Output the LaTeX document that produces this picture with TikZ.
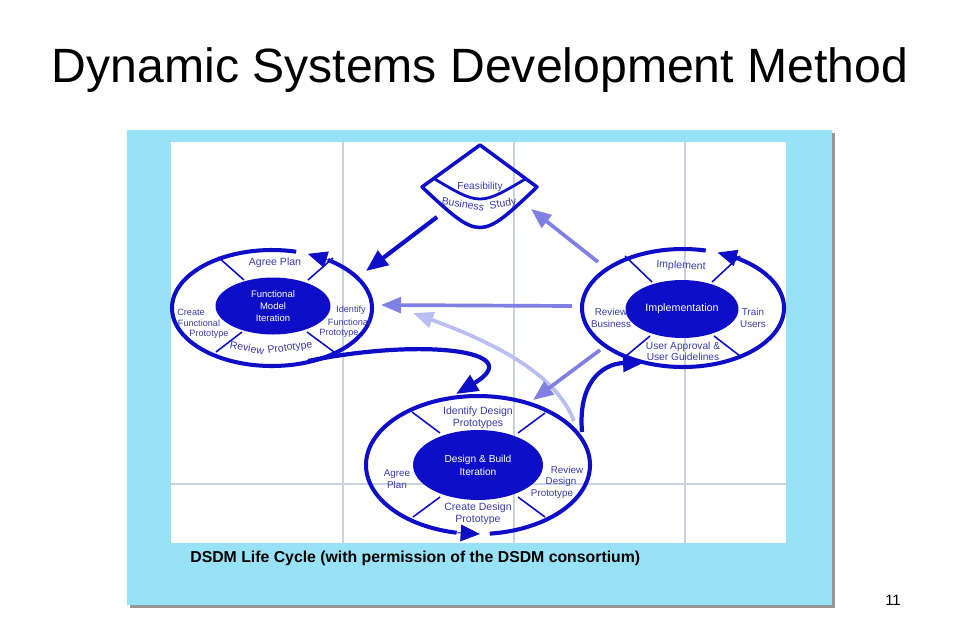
\documentclass[tikz,border=0pt]{standalone}
\usepackage{fontspec}
\setmainfont{Liberation Sans}
\usetikzlibrary{arrows.meta,shapes.geometric}
\definecolor{dsblue}{RGB}{14,14,200}
\definecolor{midarrow}{RGB}{128,128,228}
\definecolor{lightarrow}{RGB}{184,190,242}
\definecolor{ringtext}{RGB}{58,58,170}
\definecolor{panel}{RGB}{152,226,248}
\definecolor{gridc}{RGB}{202,210,226}
\definecolor{shadowc}{RGB}{150,150,150}
\begin{document}
\begin{tikzpicture}[x=0.02cm,y=-0.02cm,
  ring/.style={draw=dsblue, line width=2.3pt},
  divider/.style={draw=dsblue, line width=0.9pt},
  core/.style={ellipse, fill=dsblue, draw=none, text=white, align=center, inner sep=0pt},
  lbl/.style={text=ringtext, align=center, inner sep=0pt, font=\fontsize{6}{7}\selectfont},
  darrow/.style={draw=dsblue, line width=2.4pt, -{Triangle[length=12.5pt,width=10pt]}},
  marrow/.style={draw=midarrow, line width=2.1pt, -{Triangle[length=11.5pt,width=9pt]}},
  larrow/.style={draw=lightarrow, line width=2.1pt, -{Triangle[length=11.5pt,width=9pt]}},
  headonly/.style={draw=dsblue, line width=0.5pt, -{Triangle[length=11pt,width=9.5pt]}}
]
\useasboundingbox (0,0) rectangle (960,640);
\fill[white] (0,0) rectangle (960,640);
% title
\node[anchor=base, font=\fontsize{27.4}{30}\selectfont] (title) at (480,82) {Dynamic Systems Development Method};
% panel
\fill[shadowc] (130,133) rectangle (835,608);
\fill[panel] (127,130) rectangle (832,605);
\fill[white] (171,142) rectangle (786,543);
\draw[gridc, line width=0.6pt] (343,142) -- (343,543) (514,142) -- (514,543) (685,142) -- (685,543) (171,484) -- (786,484);
\node[anchor=base west, font=\bfseries\fontsize{9}{10}\selectfont, inner sep=0pt] (caption) at (190,562) {DSDM Life Cycle (with permission of the DSDM consortium)};
\node[font=\fontsize{8.5}{10}\selectfont] (pagenum) at (893,600) {11};

% ---------- Feasibility fan ----------
\draw[ring, line width=2pt, line join=round] (480,145) -- (422,187) .. controls (480,241) .. (537,187) -- cycle;
\draw[ring, line width=1.6pt] (433,178) .. controls (480,206) .. (527,178);
\node[lbl, font=\fontsize{5.8}{6}\selectfont] (fs1) at (480,187) {Feasibility};
\node[lbl, rotate=-9] (fs2) at (463,204) {Business};
\node[lbl, rotate=10] (fs3) at (503,204) {Study};
\coordinate (fsOut) at (437,217);
\coordinate (fsIn) at (531,209);

% ---------- Functional Model ring ----------
\coordinate (fm) at (272,308);
\draw[ring] plot[domain=76:416, samples=160] ({272+100*cos(\x)},{308-58*sin(\x)});
\draw[headonly] ({272+100*cos(55)},{308-58*sin(55)}) -- ({272+100*cos(69)},{308-58*sin(69)});
\draw[divider] (218,257) -- (244,280) (308,280) -- (333,258) (242,332) -- (216,352) (307,332) -- (334,352);
\node[core, minimum width=2.3cm, minimum height=1.14cm, font=\fontsize{5.4}{6.8}\selectfont] (fmcore) at (273,306) {Functional\\Model\\Iteration};
\node[lbl] (fm1) at (275,263) {Agree Plan};
\node[lbl, font=\fontsize{5.2}{6}\selectfont] (fm2) at (191,312) {Create};
\node[lbl, font=\fontsize{5.2}{6}\selectfont] (fm3) at (199,323) {Functional};
\node[lbl, font=\fontsize{5.2}{6}\selectfont] (fm4) at (209,334) {Prototype};
\node[lbl, font=\fontsize{5.2}{6}\selectfont] (fm5) at (351,310) {Identify};
\node[lbl, font=\fontsize{5.2}{6}\selectfont] (fm6) at (349,322) {Functional};
\node[lbl, font=\fontsize{5.2}{6}\selectfont] (fm7) at (339,333) {Prototype};
\node[lbl, rotate=-11] (fm8) at (247,348) {Review};
\node[lbl, rotate=8] (fm9) at (290,348) {Prototype};
\coordinate (fmIn) at (366,271);
\coordinate (fmIn2) at (381,305);
\coordinate (fmIn3) at (413,313);
\coordinate (fmOut) at (308,361);

% ---------- Implementation ring ----------
\coordinate (im) at (683,308);
\draw[ring] plot[domain=77:419, samples=160] ({683+101*cos(\x)},{308-59*sin(\x)});
\draw[headonly] ({683+101*cos(57)},{308-59*sin(57)}) -- ({683+101*cos(70)},{308-59*sin(70)});
\draw[divider] (625,256) -- (652,282) (712,282) -- (740,256) (650,336) -- (626,356) (714,336) -- (740,356);
\node[core, minimum width=2.26cm, minimum height=1.16cm, font=\fontsize{6.1}{7}\selectfont] (imcore) at (682,309) {Implementation};
\node[lbl, rotate=-3] (im1) at (681,266) {Implement};
\node[lbl, font=\fontsize{5.6}{6.6}\selectfont] (im2) at (611,318) {Review\\Business};
\node[lbl, font=\fontsize{5.6}{6.6}\selectfont] (im3) at (753,318) {Train\\Users};
\node[lbl, font=\fontsize{5.8}{6.1}\selectfont] (im4) at (683,351) {User Approval \&\\User Guidelines};
\coordinate (imOut1) at (598,262);
\coordinate (imOut2) at (572,306);
\coordinate (imOut3) at (600,350);
\coordinate (imIn) at (645,362);

% ---------- Design & Build ring ----------
\coordinate (db) at (478,465);
\draw[ring] plot[domain=276:619, samples=160] ({478+112*cos(\x)},{465-69*sin(\x)});
\draw[headonly] ({478+112*cos(259)},{465-69*sin(259)}) -- ({478+112*cos(271)},{465-69*sin(271)});
\draw[divider] (412,412) -- (440,433) (518,433) -- (545,413) (440,497) -- (413,517) (518,497) -- (545,517);
\node[core, minimum width=2.6cm, minimum height=1.4cm, font=\fontsize{5.8}{7.4}\selectfont] (dbcore) at (478,465) {Design \& Build\\Iteration};
\node[lbl] (db1) at (478,418) {Identify Design\\Prototypes};
\node[lbl, font=\fontsize{5.6}{6.6}\selectfont] (db2) at (397,479) {Agree\\Plan};
\node[lbl, font=\fontsize{5.6}{6.6}\selectfont] (db3) at (567,470) {Review};
\node[lbl, font=\fontsize{5.6}{6.6}\selectfont] (db4) at (561,482) {Design};
\node[lbl, font=\fontsize{5.6}{6.6}\selectfont] (db5) at (552,494) {Prototype};
\node[lbl] (db6) at (478,514) {Create Design\\Prototype};
\coordinate (dbOut1) at (574,421);
\coordinate (dbOut2) at (582,432);
\coordinate (dbIn1) at (533,400);
\coordinate (dbIn2) at (456,394);

% ---------- connectors ----------
\draw[larrow] (dbOut1) .. controls (560,385) and (520,352) .. (fmIn3);
\draw[darrow] (fsOut) -- (fmIn);
\draw[marrow] (imOut1) -- (fsIn);
\draw[marrow] (imOut2) -- (fmIn2);
\draw[marrow] (imOut3) -- (dbIn1);
\draw[darrow] (fmOut) .. controls (420,338) and (530,350) .. (dbIn2);
\draw[darrow] (dbOut2) .. controls (578,385) and (600,364) .. (imIn);
\end{tikzpicture}
\end{document}
